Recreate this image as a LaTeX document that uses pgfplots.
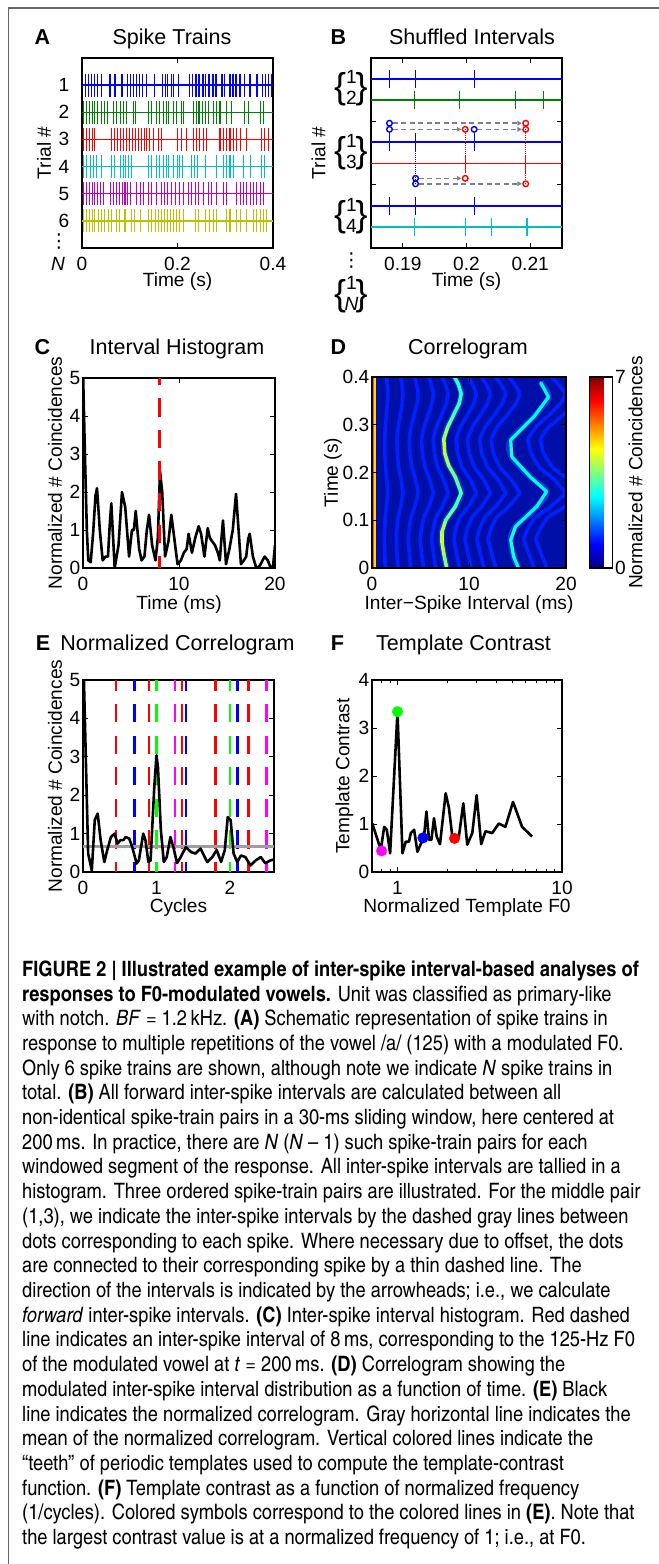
\documentclass[border=0pt]{standalone}
\usepackage{fontspec}
\setmainfont{Liberation Sans}
\newfontfamily\capfont{texgyreheroscn}[Extension=.otf, UprightFont=*-regular, BoldFont=*-bold, ItalicFont=*-italic, BoldItalicFont=*-bolditalic, FakeStretch=1.05]
\newfontfamily\symfont{DejaVu Sans}
\usepackage{pgfplots}
\usepackage{pgfplotstable}
\pgfplotsset{compat=1.18}
\usetikzlibrary{arrows.meta}

\newcommand\lab{\fontsize{19.2}{21.1}\selectfont}
\newcommand\ttl{\fontsize{21.6}{24}\selectfont}
\newcommand\bracefont{\fontsize{36}{36}\selectfont}

\definecolor{mblue}{rgb}{0,0,1}
\definecolor{mgreen}{rgb}{0,0.5,0}
\definecolor{mred}{rgb}{1,0,0}
\definecolor{mcyan}{rgb}{0,0.75,0.75}
\definecolor{mmagenta}{rgb}{0.75,0,0.75}
\definecolor{myellow}{rgb}{0.75,0.75,0}
\definecolor{tgreen}{rgb}{0,1,0}
\definecolor{tmagenta}{rgb}{1,0,1}
\definecolor{ivgray}{gray}{0.5}
\definecolor{meangray}{gray}{0.62}
\definecolor{deepblue}{rgb}{0,0.06,0.66}
\definecolor{halo}{rgb}{0.1,0.45,1}
\definecolor{hotline}{rgb}{1,0.33,0}
\definecolor{warmline}{rgb}{1,0.85,0.1}
\definecolor{framegray}{gray}{0.4}

\pgfplotsset{
  panel/.style={scale only axis, anchor=south west, tick align=inside,
    major tick length=5bp, minor tick length=3bp,
    axis line style={line width=1.1bp}, tick style={line width=0.8bp, black},
    tick label style={font=\lab, inner sep=1.5bp}, label style={font=\lab, inner sep=1bp},
    /pgf/number format/assume math mode=true,
    yticklabel style={anchor=east, xshift=-1bp},
    xticklabel style={anchor=base, yshift=-23bp}},
  spk/.style={only marks, mark=|, mark options={line width=1.05bp}},
  ring/.style={only marks, mark=o, mark size=2.8bp, mark options={line width=1.4bp}},
  isi/.style={draw=ivgray, line width=1.5bp, dash pattern=on 5bp off 3.5bp,
    -{Triangle[length=4.5bp,width=4.5bp]}},
  link/.style={line width=0.6bp, dash pattern=on 1bp off 1bp},
  tooth/.style={line width=2.6bp, dash pattern=on 18.3bp off 13.3bp, dash phase=8.3bp},
}

% correlogram stripes (ms) at selected times (s)
\pgfplotstableread{
t s1 s2 s3 s4 s5 s6 s7 s8 s9 s10 s11
0.000 1.36 2.68 3.99 5.31 6.57 9.01 10.24 11.55 12.77 16.71 18.03
0.030 1.31 2.58 3.85 5.12 6.35 8.71 9.90 11.17 12.35 16.17 17.44
0.060 1.27 2.50 3.73 4.96 6.15 8.43 9.57 10.80 11.94 15.63 16.86
0.080 1.30 2.56 3.82 5.08 6.30 8.63 9.80 11.06 12.23 16.01 17.27
0.105 1.36 2.68 4.00 5.31 6.58 9.02 10.25 11.56 12.78 16.73 18.05
0.130 1.51 2.97 4.43 5.89 7.29 10.00 11.36 12.82 14.18 18.55 20.01
0.157 1.63 3.20 4.77 6.34 7.85 10.77 12.23 13.80 15.26 19.97 21.54
0.185 1.53 3.01 4.49 5.97 7.40 10.14 11.52 13.00 14.37 18.81 20.29
0.210 1.41 2.76 4.12 5.48 6.79 9.31 10.57 11.93 13.19 17.27 18.62
0.240 1.33 2.62 3.91 5.20 6.44 8.83 10.03 11.32 12.51 16.38 17.67
0.270 1.31 2.57 3.83 5.10 6.31 8.66 9.83 11.09 12.27 16.06 17.32
0.295 1.37 2.70 4.02 5.35 6.63 9.09 10.33 11.65 12.88 16.86 18.19
0.320 1.48 2.92 4.35 5.79 7.17 9.83 11.16 12.60 13.93 18.23 19.66
0.345 1.59 3.12 4.65 6.19 7.66 10.50 11.93 13.46 14.88 19.48 21.01
0.365 1.63 3.20 4.77 6.34 7.85 10.77 12.23 13.80 15.26 19.97 21.54
0.385 1.57 3.08 4.59 6.10 7.56 10.36 11.77 13.28 14.69 19.22 20.73
0.400 1.50 2.96 4.41 5.86 7.26 9.96 11.30 12.76 14.10 18.46 19.91
}\stripesD

% first-order interval band: time, interval, level
\pgfplotstableread{
t x c
0.000 7.7 3.4
0.030 7.4 3.7
0.055 7.2 4.0
0.075 7.2 4.0
0.100 7.6 3.5
0.129 8.6 3.1
0.157 9.2 3.1
0.190 8.6 3.4
0.215 7.9 3.6
0.240 7.5 4.0
0.270 7.4 4.0
0.295 7.8 3.5
0.320 8.4 3.1
0.345 9.0 3.0
0.365 9.2 3.0
0.385 8.9 3.0
0.400 8.5 3.0
}\bandone

% second-order interval band
\pgfplotstableread{
t x c
0.000 15.1 2.6
0.024 14.6 2.7
0.059 14.3 2.8
0.087 14.8 2.7
0.129 17.0 2.5
0.160 18.0 2.7
0.191 16.3 2.5
0.233 14.4 2.7
0.268 14.3 2.8
0.317 16.7 2.5
0.358 18.2 2.7
0.388 17.4 2.5
}\bandtwo

% braced pair of trial numbers centred at height #1
\newcommand\pairlab[2]{%
  \node[inner sep=0pt] at (340bp,#1) {\bracefont\{};
  \node[inner sep=0pt, font=\lab] at (351.5bp,#1) {\begin{tabular}{@{}c@{}}#2\end{tabular}};
  \node[inner sep=0pt] at (361.5bp,#1) {\bracefont\}};}

\begin{document}
\begin{tikzpicture}
\useasboundingbox (0bp,0bp) rectangle (659bp,1564bp);
\draw[line width=1.8bp, framegray] (8.5bp,0bp) -- (8.5bp,1556bp) -- (659bp,1556bp);

% ---------------- A: spike trains
\begin{axis}[panel, at={(82bp,1316bp)}, width=191bp, height=190bp,
  xmin=0, xmax=0.4, ymin=0, ymax=7, y dir=reverse,
  xtick={0,0.2,0.4}, ytick={1,2,3,4,5,6}, ytick style={draw=none},
  yticklabel style={xshift=-10bp},
  xlabel={Time (s)}, ylabel={Trial \#},
  xlabel style={at={(axis description cs:0.5,-0.179)}, anchor=center},
  ylabel style={at={(axis description cs:-0.199,0.5)}, anchor=center}]
\addplot[mblue, line width=1.4bp] coordinates {(0,1) (0.4,1)};
\addplot[spk, mark size=11.5bp, mblue] coordinates {
(0.008,1)(0.014,1)(0.020,1)(0.026,1)(0.032,1)(0.040,1)(0.0586,1)(0.0691,1)(0.0838,1)(0.096,1)
(0.102,1)(0.108,1)(0.114,1)(0.120,1)(0.126,1)(0.136,1)(0.151,1)(0.168,1)(0.174,1)(0.180,1)
(0.1879,1)(0.1920,1)(0.2012,1)(0.2261,1)(0.2324,1)(0.2387,1)(0.2450,1)(0.2534,1)(0.2596,1)
(0.2660,1)(0.2743,1)(0.2806,1)(0.2932,1)(0.2994,1)(0.3099,1)(0.3162,1)(0.3225,1)(0.3309,1)
(0.3413,1)(0.3518,1)(0.3665,1)(0.3790,1)(0.3850,1)(0.3910,1)(0.3965,1)};
\addplot[mgreen, line width=1.4bp] coordinates {(0,2) (0.4,2)};
\addplot[spk, mark size=11.5bp, mgreen] coordinates {
(0.003,2)(0.009,2)(0.015,2)(0.021,2)(0.027,2)(0.033,2)(0.041,2)(0.048,2)(0.054,2)(0.066,2)
(0.073,2)(0.080,2)(0.087,2)(0.094,2)(0.107,2)(0.113,2)(0.139,2)(0.146,2)(0.156,2)(0.163,2)
(0.170,2)(0.176,2)(0.182,2)(0.1918,2)(0.1989,2)(0.2077,2)(0.2121,2)(0.233,2)(0.239,2)(0.245,2)
(0.252,2)(0.258,2)(0.265,2)(0.275,2)(0.282,2)(0.289,2)(0.303,2)(0.313,2)(0.341,2)(0.348,2)
(0.373,2)(0.380,2)};
\addplot[mred, line width=1.4bp] coordinates {(0,3) (0.4,3)};
\addplot[spk, mark size=11.5bp, mred] coordinates {
(0.003,3)(0.009,3)(0.015,3)(0.021,3)(0.027,3)(0.062,3)(0.068,3)(0.074,3)(0.080,3)(0.087,3)
(0.094,3)(0.100,3)(0.106,3)(0.112,3)(0.118,3)(0.124,3)(0.130,3)(0.136,3)(0.142,3)(0.149,3)
(0.160,3)(0.167,3)(0.1998,3)(0.2093,3)(0.219,3)(0.233,3)(0.240,3)(0.247,3)(0.254,3)(0.261,3)
(0.289,3)(0.296,3)(0.303,3)(0.310,3)(0.317,3)(0.324,3)(0.331,3)(0.345,3)(0.376,3)(0.383,3)
(0.390,3)};
\addplot[mcyan, line width=1.4bp] coordinates {(0,4) (0.4,4)};
\addplot[spk, mark size=11.5bp, mcyan] coordinates {
(0.003,4)(0.010,4)(0.017,4)(0.024,4)(0.030,4)(0.041,4)(0.062,4)(0.068,4)(0.080,4)(0.086,4)
(0.092,4)(0.098,4)(0.104,4)(0.139,4)(0.146,4)(0.156,4)(0.163,4)(0.170,4)(0.176,4)(0.182,4)
(0.1918,4)(0.1999,4)(0.2040,4)(0.2095,4)(0.229,4)(0.235,4)(0.241,4)(0.258,4)(0.282,4)(0.296,4)
(0.303,4)(0.310,4)(0.317,4)(0.338,4)(0.352,4)(0.376,4)(0.383,4)};
\addplot[mmagenta, line width=1.4bp] coordinates {(0,5) (0.4,5)};
\addplot[spk, mark size=11.5bp, mmagenta] coordinates {
(0.003,5)(0.009,5)(0.015,5)(0.021,5)(0.027,5)(0.033,5)(0.039,5)(0.045,5)(0.059,5)(0.066,5)
(0.072,5)(0.078,5)(0.084,5)(0.090,5)(0.096,5)(0.102,5)(0.115,5)(0.122,5)(0.128,5)(0.139,5)
(0.146,5)(0.156,5)(0.167,5)(0.173,5)(0.179,5)(0.188,5)(0.195,5)(0.205,5)(0.212,5)(0.223,5)
(0.230,5)(0.237,5)(0.244,5)(0.254,5)(0.265,5)(0.272,5)(0.282,5)(0.296,5)(0.303,5)(0.324,5)
(0.331,5)(0.338,5)(0.345,5)(0.352,5)(0.359,5)(0.366,5)(0.373,5)(0.380,5)};
\addplot[myellow, line width=1.4bp] coordinates {(0,6) (0.4,6)};
\addplot[spk, mark size=11.5bp, myellow] coordinates {
(0.003,6)(0.009,6)(0.015,6)(0.021,6)(0.027,6)(0.034,6)(0.041,6)(0.048,6)(0.055,6)(0.062,6)
(0.073,6)(0.079,6)(0.090,6)(0.104,6)(0.110,6)(0.122,6)(0.139,6)(0.146,6)(0.153,6)(0.160,6)
(0.167,6)(0.173,6)(0.179,6)(0.185,6)(0.191,6)(0.197,6)(0.205,6)(0.212,6)(0.237,6)(0.244,6)
(0.258,6)(0.268,6)(0.275,6)(0.282,6)(0.303,6)(0.310,6)(0.324,6)(0.331,6)(0.345,6)(0.359,6)
(0.366,6)(0.373,6)(0.380,6)(0.387,6)};
\end{axis}
\node[font=\symfont\lab, inner sep=0pt] at (59bp,1322bp) {⋮};
\node[font=\lab\itshape, anchor=base, inner sep=0pt] at (58bp,1293bp) {N};

% ---------------- B: shuffled intervals
\begin{axis}[panel, at={(371bp,1316bp)}, width=191bp, height=190bp,
  xmin=0.185, xmax=0.215, ymin=0, ymax=9, y dir=reverse,
  xtick={0.19,0.2,0.21}, ytick={3,6}, yticklabels={},
  xlabel={Time (s)}, ylabel={Trial \#},
  xlabel style={at={(axis description cs:0.5,-0.179)}, anchor=center},
  ylabel style={at={(axis description cs:-0.275,0.5)}, anchor=center}]
\addplot[mblue, line width=1.9bp] coordinates {(0.185,1) (0.215,1)};
\addplot[spk, mark size=9bp, mblue] coordinates {(0.1879,1)(0.1920,1)(0.2012,1)};
\addplot[mgreen, line width=1.9bp] coordinates {(0.185,2) (0.215,2)};
\addplot[spk, mark size=9bp, mgreen] coordinates {(0.1918,2)(0.1989,2)(0.2077,2)(0.2121,2)};
\addplot[mblue, line width=1.9bp] coordinates {(0.185,4) (0.215,4)};
\addplot[spk, mark size=9bp, mblue] coordinates {(0.1879,4)(0.1920,4)(0.2012,4)};
\addplot[mred, line width=1.9bp] coordinates {(0.185,5) (0.215,5)};
\addplot[spk, mark size=9bp, mred] coordinates {(0.1998,5)(0.2093,5)};
\addplot[mblue, line width=1.9bp] coordinates {(0.185,7) (0.215,7)};
\addplot[spk, mark size=9bp, mblue] coordinates {(0.1879,7)(0.1920,7)(0.2012,7)};
\addplot[mcyan, line width=1.9bp] coordinates {(0.185,8) (0.215,8)};
\addplot[spk, mark size=9bp, mcyan] coordinates {(0.1918,8)(0.1999,8)(0.2040,8)(0.2095,8)};
% thin links from dots to their spikes
\addplot[link, mred] coordinates {(0.1998,3.38) (0.1998,4.6)};
\addplot[link, mred] coordinates {(0.2093,3.38) (0.2093,5.96)};
\addplot[link, mblue] coordinates {(0.1920,4.4) (0.1920,5.96)};
% forward intervals
\addplot[isi] coordinates {(0.1884,3.09) (0.2087,3.09)};
\addplot[isi] coordinates {(0.1884,3.38) (0.1992,3.38)};
\addplot[isi] coordinates {(0.2017,3.38) (0.2087,3.38)};
\addplot[isi] coordinates {(0.1925,5.70) (0.1992,5.70)};
\addplot[isi] coordinates {(0.1925,5.96) (0.2087,5.96)};
\addplot[ring, mblue] coordinates {(0.1879,3.09)(0.1879,3.38)(0.2012,3.38)(0.1920,5.70)(0.1920,5.96)};
\addplot[ring, mred] coordinates {(0.2093,3.09)(0.2093,3.38)(0.1998,3.38)(0.1998,5.70)(0.2093,5.96)};
\end{axis}
\pairlab{1474.5bp}{1\\2}
\pairlab{1410.5bp}{1\\3}
\pairlab{1346.5bp}{1\\4}
\node[font=\symfont\lab, inner sep=0pt] at (351.5bp,1303bp) {⋮};
\pairlab{1268bp}{1\\\textit{N}}

% ---------------- C: interval histogram
\begin{axis}[panel, at={(83bp,996bp)}, width=192bp, height=190bp,
  xmin=0, xmax=20, ymin=0, ymax=5, xtick={0,10,20}, ytick={0,1,2,3,4,5},
  xlabel={Time (ms)}, ylabel={Normalized \# Coincidences},
  xlabel style={at={(axis description cs:0.5,-0.19)}, anchor=center},
  ylabel style={at={(axis description cs:-0.146,0.5)}, anchor=center}]
\addplot[black, line width=2.6bp, line join=round] coordinates {
(0,5.2)(0.2,3.0)(0.4,1.0)(0.55,0.2)(0.8,0.15)(1.05,0.9)(1.3,1.9)(1.46,2.1)(1.75,1.0)(2.05,0.2)
(2.35,0.3)(2.6,0.3)(2.8,1.2)(2.95,1.7)(3.3,0.0)(3.7,0.6)(4.06,2.0)(4.4,1.6)(4.8,0.3)(5.1,1.0)
(5.3,1.0)(5.49,1.5)(5.85,0.5)(6.1,0.2)(6.4,0.3)(6.65,1.0)(6.88,1.4)(7.2,0.6)(7.55,0.2)(7.8,0.8)
(8.02,2.55)(8.25,2.0)(8.55,0.3)(8.9,0.7)(9.2,1.4)(9.5,0.8)(9.85,0.1)(10.2,0.2)(10.5,0.4)
(10.8,0.5)(11.0,0.9)(11.35,0.4)(11.7,0.8)(12.05,1.1)(12.3,0.9)(12.65,0.3)(12.99,1.05)(13.2,0.8)
(13.45,0.7)(13.75,0.6)(14.05,0.4)(14.25,0.2)(14.4,0.7)(14.58,1.25)(14.9,0.1)(15.25,0.5)
(15.6,1.0)(15.94,1.95)(16.15,1.2)(16.45,0.1)(16.75,0.2)(17.0,0.3)(17.2,0.75)(17.36,0.9)
(17.7,0.3)(18.05,0.0)(18.4,0.05)(18.7,0.2)(18.92,0.3)(19.25,0.2)(19.55,0.0)(19.8,0.05)(20,0.6)};
\addplot[mred, line width=2.8bp, dash pattern=on 18.3bp off 13.3bp, dash phase=6.6bp]
  coordinates {(8,0) (8,5)};
\end{axis}

% ---------------- D: correlogram
\begin{axis}[panel, at={(372bp,996bp)}, width=194bp, height=191bp, axis on top,
  xmin=0, xmax=20, ymin=0, ymax=0.4, xtick={0,10,20}, ytick={0,0.1,0.2,0.3,0.4},
  axis background/.style={fill=deepblue},
  colormap/jet, point meta min=0, point meta max=7,
  xlabel={Inter−Spike Interval (ms)}, ylabel={Time (s)},
  xlabel style={at={(axis description cs:0.5,-0.189)}, anchor=center},
  ylabel style={at={(axis description cs:-0.201,0.5)}, anchor=center},
  colorbar,
  colorbar style={at={(parent axis.north east)}, anchor=north west, xshift=15bp,
    width=23bp, height=191bp, scale only axis, tick align=inside, major tick length=4bp,
    axis line style={line width=1.1bp}, tick style={line width=0.8bp, black},
    ytick={0,7}, yticklabel pos=right,
    tick label style={font=\lab, inner sep=1.5bp},
    yticklabel style={anchor=west, xshift=1bp},
    /pgf/number format/assume math mode=true,
    ylabel={Normalized \# Coincidences}, ylabel style={font=\lab,
      at={(axis description cs:2.0,0.5)}, anchor=center}}]
\pgfplotsinvokeforeach{s1,s2,s3,s4,s5,s6,s7,s8,s9,s10,s11}{
  \addplot[mesh, line width=3.6bp, line join=round, point meta=1.1] table[x=#1, y=t] {\stripesD};
}
\addplot[draw=halo, line width=6bp, opacity=0.45, smooth] table[x=x, y=t] {\bandtwo};
\addplot[mesh, line width=3.2bp, line cap=round, point meta=explicit] table[x=x, y=t, meta=c] {\bandtwo};
\addplot[draw=halo, line width=6bp, opacity=0.45, smooth] table[x=x, y=t] {\bandone};
\addplot[mesh, line width=3.5bp, line cap=round, point meta=explicit] table[x=x, y=t, meta=c] {\bandone};
\addplot[hotline, line width=1.8bp] coordinates {(0.12,0) (0.12,0.4)};
\addplot[warmline, line width=1.4bp] coordinates {(0.32,0) (0.32,0.4)};
\end{axis}

% ---------------- E: normalized correlogram
\begin{axis}[panel, at={(83bp,692bp)}, width=191bp, height=192bp,
  xmin=0, xmax=2.6, ymin=0, ymax=5, xtick={0,1,2}, ytick={0,1,2,3,4,5},
  xlabel={Cycles}, ylabel={Normalized \# Coincidences},
  xlabel style={at={(axis description cs:0.5,-0.185)}, anchor=center},
  ylabel style={at={(axis description cs:-0.147,0.5)}, anchor=center}]
\pgfplotsinvokeforeach{0.45,0.9,1.35,1.8,2.25}{\addplot[tooth, mred] coordinates {(#1,0) (#1,5)};}
\pgfplotsinvokeforeach{0.7,1.4,2.1}{\addplot[tooth, mblue] coordinates {(#1,0) (#1,5)};}
\pgfplotsinvokeforeach{1,2}{\addplot[tooth, tgreen] coordinates {(#1,0) (#1,5)};}
\pgfplotsinvokeforeach{1.25,2.5}{\addplot[tooth, tmagenta] coordinates {(#1,0) (#1,5)};}
\addplot[meangray, line width=2.6bp] coordinates {(0,0.66) (2.6,0.66)};
\addplot[black, line width=2.6bp, line join=round] coordinates {
(0.005,5.6)(0.04,2.83)(0.07,0.48)(0.12,0.04)(0.16,1.35)(0.2,1.52)(0.24,0.83)(0.29,0.26)(0.33,0.57)
(0.38,0.91)(0.43,1.0)(0.47,0.74)(0.51,0.83)(0.55,0.83)(0.58,0.91)(0.63,0.87)(0.67,0.65)(0.73,0.22)
(0.76,0.3)(0.82,1.0)(0.85,0.83)(0.89,0.26)(0.92,0.3)(0.97,2.2)(1.0,3.04)(1.02,2.74)(1.06,1.09)
(1.10,0.26)(1.14,0.39)(1.19,0.91)(1.23,0.65)(1.28,0.23)(1.33,0.39)(1.40,0.65)(1.47,0.52)
(1.53,0.48)(1.60,0.61)(1.69,0.26)(1.76,0.39)(1.82,0.57)(1.88,0.26)(1.93,0.57)(1.97,1.43)
(2.01,1.35)(2.05,0.48)(2.10,0.26)(2.15,0.43)(2.21,0.39)(2.28,0.17)(2.35,0.30)(2.42,0.39)
(2.48,0.23)(2.55,0.30)(2.6,0.33)};
\end{axis}

% ---------------- F: template contrast
\begin{axis}[panel, at={(372bp,692bp)}, width=190bp, height=192bp, xmode=log,
  xmin=0.7, xmax=10, ymin=0, ymax=4, xtick={1,10}, xticklabels={1,10},
  minor xtick={0.8,0.9,2,3,4,5,6,7,8,9}, ytick={0,1,2,3,4},
  xlabel={Normalized Template F0}, ylabel={Template Contrast},
  xlabel style={at={(axis description cs:0.5,-0.185)}, anchor=center},
  ylabel style={at={(axis description cs:-0.145,0.5)}, anchor=center}]
\addplot[black, line width=2.6bp, line join=round] coordinates {
(0.703,1.01)(0.792,0.46)(0.830,0.94)(0.861,0.88)(0.902,0.39)(1.0,3.34)(1.072,0.39)(1.122,0.63)
(1.175,0.63)(1.204,0.81)(1.262,0.88)(1.322,0.42)(1.384,0.58)(1.450,0.74)(1.499,1.26)(1.555,0.67)
(1.607,0.67)(1.667,1.12)(1.730,0.74)(1.813,0.58)(1.963,1.64)(2.056,1.33)(2.154,0.74)(2.255,0.67)
(2.362,0.74)(2.512,1.43)(2.655,0.57)(2.849,0.81)(3.027,1.6)(3.227,0.58)(3.428,0.85)(3.764,0.81)
(4.13,1.01)(4.53,0.94)(5.04,1.46)(5.72,0.94)(6.58,0.74)};
\addplot[only marks, mark=*, mark size=5.3bp, tmagenta] coordinates {(0.8,0.44)};
\addplot[only marks, mark=*, mark size=5.3bp, tgreen] coordinates {(1.0,3.34)};
\addplot[only marks, mark=*, mark size=5.3bp, mblue] coordinates {(1.4286,0.71)};
\addplot[only marks, mark=*, mark size=5.3bp, mred] coordinates {(2.2222,0.70)};
\end{axis}

% ---------------- panel titles
\begin{scope}[every node/.style={anchor=base, font=\ttl}]
\node[font=\ttl\bfseries] at (42.5bp,1519.3bp) {A};
\node at (172bp,1519.3bp) {Spike Trains};
\node[font=\ttl\bfseries] at (338.5bp,1519.3bp) {B};
\node at (472bp,1519.3bp) {Shuffled Intervals};
\node[font=\ttl\bfseries] at (42.5bp,1209.3bp) {C};
\node at (177bp,1209.3bp) {Interval Histogram};
\node[font=\ttl\bfseries] at (338.5bp,1209.3bp) {D};
\node at (468bp,1209.3bp) {Correlogram};
\node[font=\ttl\bfseries] at (43bp,913.3bp) {E};
\node at (177.5bp,913.3bp) {Normalized Correlogram};
\node[font=\ttl\bfseries] at (337.5bp,913.3bp) {F};
\node at (463.5bp,913.3bp) {Template Contrast};
\end{scope}

% ---------------- caption
\node[anchor=north west, align=left, inner sep=0pt,
  font=\capfont\fontsize{21.3}{24.8}\selectfont] at (22bp,603.5bp) {%
\textbf{FIGURE 2 | Illustrated example of inter-spike interval-based analyses of}\\
\textbf{responses to F0-modulated vowels.} Unit was classified as primary-like\\
with notch. \textit{BF} = 1.2\,kHz. \textbf{(A)} Schematic representation of spike trains in\\
response to multiple repetitions of the vowel /a/ (125) with a modulated F0.\\
Only 6 spike trains are shown, although note we indicate \textit{N} spike trains in\\
total. \textbf{(B)} All forward inter-spike intervals are calculated between all\\
non-identical spike-train pairs in a 30-ms sliding window, here centered at\\
200\,ms. In practice, there are \textit{N} (\textit{N} – 1) such spike-train pairs for each\\
windowed segment of the response. All inter-spike intervals are tallied in a\\
histogram. Three ordered spike-train pairs are illustrated. For the middle pair\\
(1,3), we indicate the inter-spike intervals by the dashed gray lines between\\
dots corresponding to each spike. Where necessary due to offset, the dots\\
are connected to their corresponding spike by a thin dashed line. The\\
direction of the intervals is indicated by the arrowheads; i.e., we calculate\\
\textit{forward} inter-spike intervals. \textbf{(C)} Inter-spike interval histogram. Red dashed\\
line indicates an inter-spike interval of 8\,ms, corresponding to the 125-Hz F0\\
of the modulated vowel at \textit{t} = 200\,ms. \textbf{(D)} Correlogram showing the\\
modulated inter-spike interval distribution as a function of time. \textbf{(E)} Black\\
line indicates the normalized correlogram. Gray horizontal line indicates the\\
mean of the normalized correlogram. Vertical colored lines indicate the\\
“teeth” of periodic templates used to compute the template-contrast\\
function. \textbf{(F)} Template contrast as a function of normalized frequency\\
(1/cycles). Colored symbols correspond to the colored lines in \textbf{(E)}. Note that\\
the largest contrast value is at a normalized frequency of 1; i.e., at F0.};
\end{tikzpicture}
\end{document}
